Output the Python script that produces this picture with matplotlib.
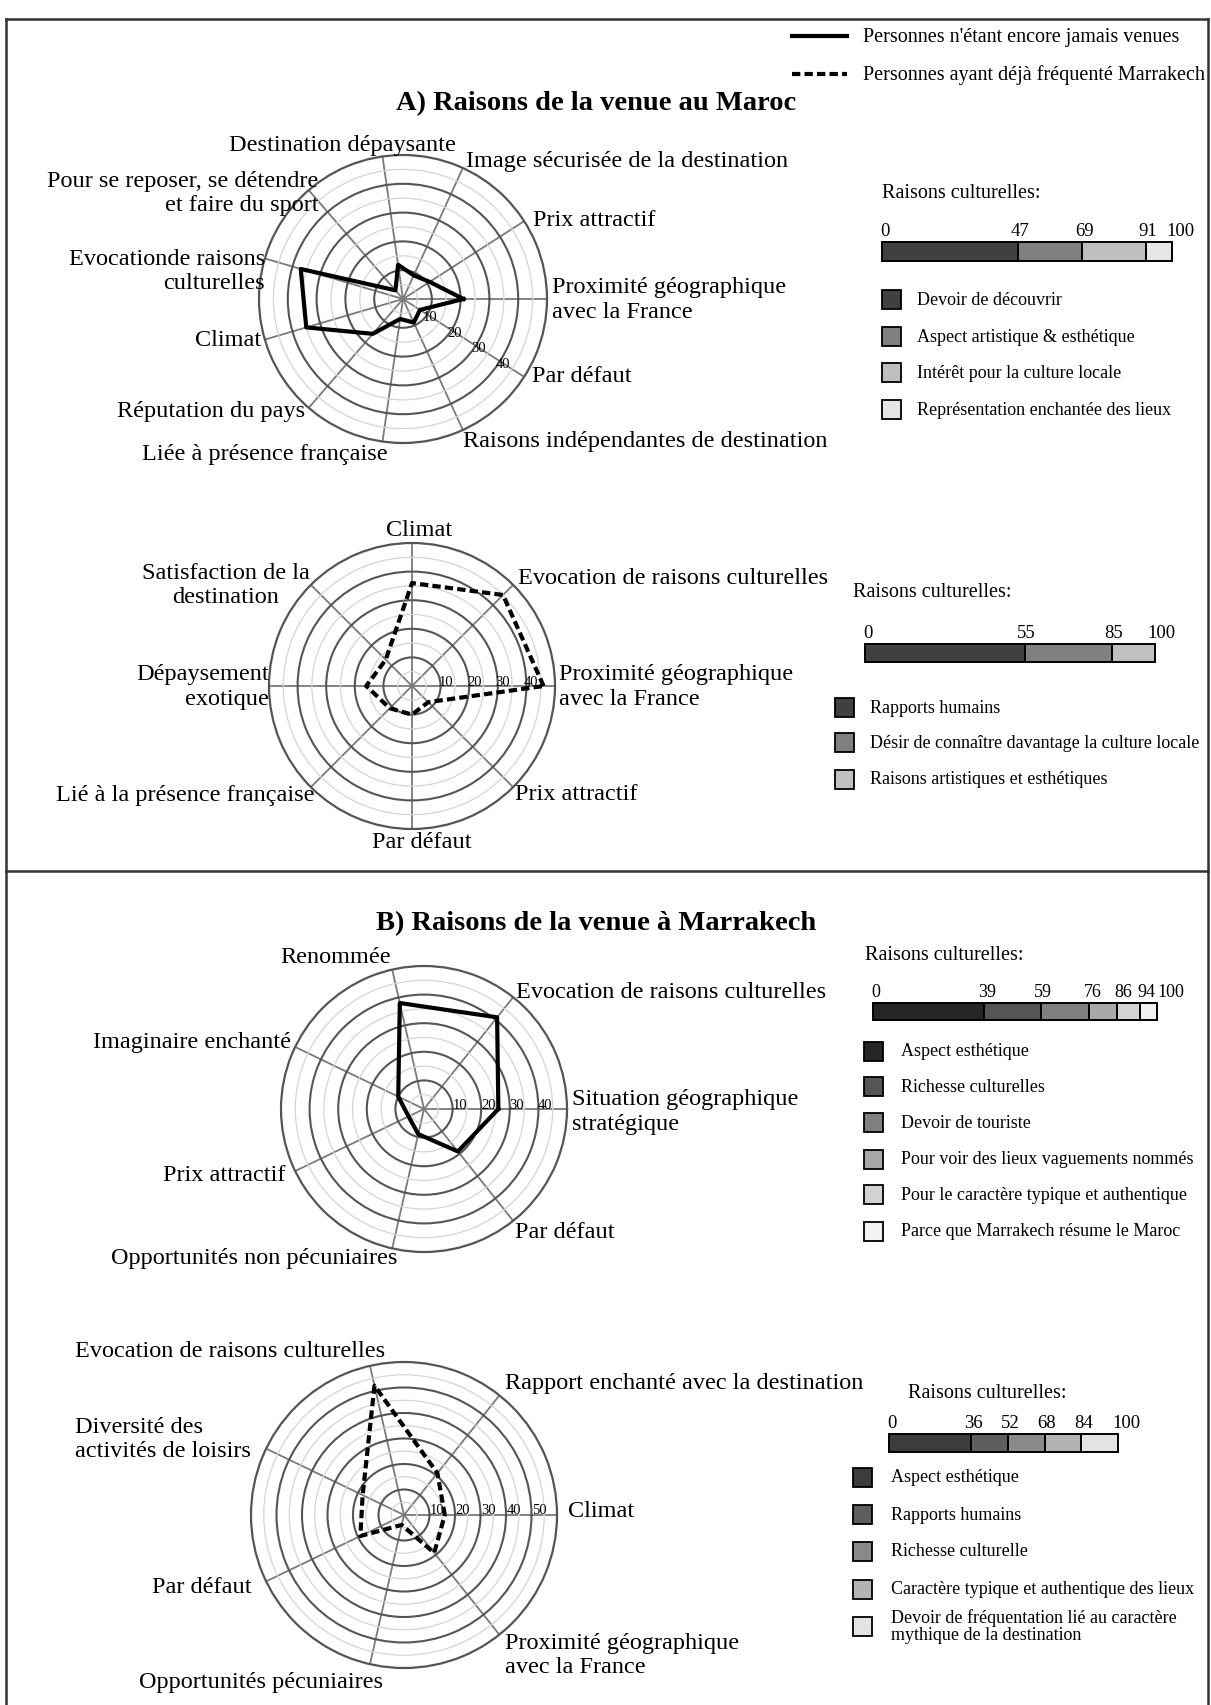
import numpy as np
import matplotlib.pyplot as plt
from matplotlib.patches import Rectangle

plt.rcParams['font.family'] = ['Liberation Serif', 'DejaVu Serif']

W, H = 1211, 1706

# ---- data (categories listed counter-clockwise starting from the right-hand spoke) ----
a1_cats = ["Proximité géographique\navec la France", "Prix attractif",
           "Image sécurisée de la destination", "Destination dépaysante",
           "Pour se reposer, se détendre\net faire du sport", "Evocationde raisons\nculturelles",
           "Climat", "Réputation du pays", "Liée à présence française",
           "Raisons indépendantes de destination", "Par défaut"]
a1_vals = [21, 11, 9, 12, 4, 37, 35, 16, 7, 9, 7]

a2_cats = ["Proximité géographique\navec la France", "Evocation de raisons culturelles",
           "Climat", "Satisfaction de la\ndestination", "Dépaysement\nexotique",
           "Lié à la présence française", "Par défaut", "Prix attractif"]
a2_vals = [46, 45, 36, 13, 16, 11, 10, 8]

b1_cats = ["Situation géographique\nstratégique", "Evocation de raisons culturelles",
           "Renommée", "Imaginaire enchanté", "Prix attractif",
           "Opportunités non pécuniaires", "Par défaut"]
b1_vals = [26, 41, 38, 10, 6, 9, 19]

b2_cats = ["Climat", "Rapport enchanté avec la destination",
           "Evocation de raisons culturelles", "Diversité des\nactivités de loisirs",
           "Par défaut", "Opportunités pécuniaires", "Proximité géographique\navec la France"]
b2_vals = [16, 21, 52, 18, 19, 4, 19]

# cultural reasons breakdown (shares in %)
a1_bar_names = ["Devoir de découvrir", "Aspect artistique & esthétique",
                "Intérêt pour la culture locale", "Représentation enchantée des lieux"]
a1_bar_shares = [47, 22, 22, 9]
a2_bar_names = ["Rapports humains", "Désir de connaître davantage la culture locale",
                "Raisons artistiques et esthétiques"]
a2_bar_shares = [55, 30, 15]
b1_bar_names = ["Aspect esthétique", "Richesse culturelles", "Devoir de touriste",
                "Pour voir des lieux vaguements nommés", "Pour le caractère typique et authentique",
                "Parce que Marrakech résume le Maroc"]
b1_bar_shares = [39, 20, 17, 10, 8, 6]
b2_bar_names = ["Aspect esthétique", "Rapports humains", "Richesse culturelle",
                "Caractère typique et authentique des lieux",
                "Devoir de fréquentation lié au caractère\nmythique de la destination"]
b2_bar_shares = [36, 16, 16, 16, 16]

a1_colors = ['#404040', '#808080', '#bfbfbf', '#e6e6e6']
a2_colors = ['#404040', '#808080', '#c0c0c0']
b1_colors = ['#262626', '#555555', '#808080', '#a8a8a8', '#d2d2d2', '#f2f2f2']
b2_colors = ['#3c3c3c', '#5e5e5e', '#8a8a8a', '#b3b3b3', '#e3e3e3']

DASH = (0, (2, 1))
LABEL_FS = 17.5

fig = plt.figure(figsize=(W / 100, H / 100), dpi=100)
bg = fig.add_axes([0, 0, 1, 1])
bg.set_xlim(0, W)
bg.set_ylim(H, 0)
bg.axis('off')


def radar(cx, cy, R, rmax, cats, vals, ls, label_spec, ridx, roff):
    ax = fig.add_axes([(cx - R) / W, 1 - (cy + R) / H, 2 * R / W, 2 * R / H], projection='polar')
    n = len(cats)
    theta = 2 * np.pi * np.arange(n) / n
    ax.set_ylim(0, rmax)
    ax.set_xticks(theta)
    ax.set_yticks(np.arange(10, rmax, 10))
    ax.set_yticks(np.arange(5, rmax, 10), minor=True)
    ax.set_xticklabels([])
    ax.set_yticklabels([])
    ax.tick_params(length=0, which='both')
    ax.grid(True, axis='y', which='major', color='#555555', lw=1.5)
    ax.grid(True, axis='y', which='minor', color='#d4d4d4', lw=0.9)
    ax.grid(True, axis='x', color='#7a7a7a', lw=1.3)
    ax.spines['polar'].set_color('#555555')
    ax.spines['polar'].set_linewidth(1.6)
    t = np.append(theta, theta[0])
    v = np.append(vals, vals[0])
    ax.plot(t, v, color='black', lw=3, linestyle=ls, zorder=5, clip_on=False)
    for th, name, (ha, dx, dy, ma) in zip(theta, cats, label_spec):
        ax.annotate(name, xy=(th, rmax), xytext=(dx, -dy), textcoords='offset pixels',
                    ha=ha, va='center', ma=ma, fontsize=LABEL_FS, annotation_clip=False,
                    linespacing=1.2)
    for r in np.arange(10, rmax, 10):
        ax.annotate(f'{r:g}', xy=(theta[ridx], r), xytext=(roff[0], -roff[1]),
                    textcoords='offset pixels', ha='center', va='center', fontsize=10.5,
                    zorder=6)
    return ax


a1_spec = [('left', 5, 0, 'left'), ('left', 9, -2, 'left'), ('left', 3, -8, 'left'),
           ('center', -40, -12, 'center'), ('right', 10, 2, 'right'), ('right', 0, 12, 'right'),
           ('right', -4, 0, 'right'), ('right', -4, 3, 'right'), ('right', 5, 12, 'right'),
           ('left', 0, 11, 'left'), ('left', 8, -1, 'left')]
a2_spec = [('left', 4, 0, 'left'), ('left', 5, -7, 'left'), ('center', 7, -14, 'center'),
           ('right', -1, 0, 'center'), ('right', 0, 0, 'right'), ('right', 4, 7, 'right'),
           ('center', 10, 12, 'center'), ('left', 2, 6, 'left')]
b1_spec = [('left', 5, 2, 'left'), ('left', 3, -6, 'left'), ('right', -1, -13, 'right'),
           ('right', -4, -5, 'right'), ('right', -10, 3, 'right'), ('right', 5, 9, 'right'),
           ('left', 2, 11, 'left')]
b2_spec = [('left', 11, -4, 'left'), ('left', 6, -13, 'left'), ('right', 15, -15, 'right'),
           ('right', -15, -10, 'left'), ('right', -15, 5, 'right'), ('right', 13, 17, 'right'),
           ('left', 6, 20, 'left')]

radar(403, 300, 144, 50, a1_cats, a1_vals, '-', a1_spec, 10, (3, 2))
radar(412, 687, 143, 50, a2_cats, a2_vals, DASH, a2_spec, 0, (5, -5))
radar(424, 1110, 143, 50, b1_cats, b1_vals, '-', b1_spec, 0, (7, -4))
radar(404, 1516, 153, 60, b2_cats, b2_vals, DASH, b2_spec, 0, (8, -5))


def stacked_bar(x0, x1, y0, y1, shares, colors, nudge=None, fs=13.5):
    ax = fig.add_axes([x0 / W, 1 - y1 / H, (x1 - x0) / W, (y1 - y0) / H])
    cum = np.cumsum(shares)
    lefts = cum - np.array(shares)
    bars = ax.barh(0, shares, left=lefts, height=1, color=colors,
                   edgecolor='black', linewidth=1.4)
    for b in bars:
        b.set_clip_on(False)
    ax.set_xlim(0, 100)
    ax.set_ylim(-0.5, 0.5)
    ax.axis('off')
    bounds = np.concatenate([[0], cum])
    if nudge is None:
        nudge = [2] * len(bounds)
    for b, nx in zip(bounds, nudge):
        ax.annotate(f'{b:g}', xy=(b, 0.5), xytext=(nx, 3), textcoords='offset pixels',
                    ha='center', va='bottom', fontsize=fs, annotation_clip=False)


def legend_items(x, ys, names, colors, tx, size=19):
    for y, name, c in zip(ys, names, colors):
        bg.add_patch(Rectangle((x, y - size / 2), size, size, facecolor=c,
                               edgecolor='black', lw=1.3))
        bg.text(tx, y, name, ha='left', va='center', fontsize=13, linespacing=1.0)


# panel A, top
bg.text(882, 193, "Raisons culturelles:", ha='left', va='center', fontsize=14.5)
stacked_bar(882, 1172, 243, 262, a1_bar_shares, a1_colors, [3, 2, 2, 2, 8])
legend_items(882, [300, 337, 373, 410], a1_bar_names, a1_colors, 917)

# panel A, bottom
bg.text(853, 592, "Raisons culturelles:", ha='left', va='center', fontsize=14.5)
stacked_bar(865, 1155, 645, 663, a2_bar_shares, a2_colors, [3, 2, 2, 6])
legend_items(835, [708, 743, 780], a2_bar_names, a2_colors, 870)

# panel B, top
bg.text(865, 955, "Raisons culturelles:", ha='left', va='center', fontsize=14.5)
stacked_bar(873, 1157, 1004, 1021, b1_bar_shares, b1_colors, [3, 3, 2, 4, 6, 6, 14], fs=13)
legend_items(864, [1052, 1087, 1123, 1160, 1195, 1232], b1_bar_names, b1_colors, 901)

# panel B, bottom
bg.text(908, 1393, "Raisons culturelles:", ha='left', va='center', fontsize=14.5)
stacked_bar(889, 1118, 1435, 1453, b2_bar_shares, b2_colors, [3, 2, 2, 2, 2, 8])
legend_items(853, [1478, 1515, 1552, 1590, 1627], b2_bar_names, b2_colors, 891)

# series legend
bg.plot([792, 847], [37, 37], color='black', lw=3)
bg.plot([792, 847], [75, 75], color='black', lw=3, linestyle=DASH)
bg.text(863, 37, "Personnes n'étant encore jamais venues", ha='left', va='center', fontsize=14.5)
bg.text(863, 75, "Personnes ayant déjà fréquenté Marrakech", ha='left', va='center', fontsize=14.5)

# section titles
bg.text(596, 104, "A) Raisons de la venue au Maroc", ha='center', va='center',
        fontsize=20.5, fontweight='bold')
bg.text(596, 924, "B) Raisons de la venue à Marrakech", ha='center', va='center',
        fontsize=20.5, fontweight='bold')

# frame
frame = '#333333'
bg.plot([6, 1208], [20, 20], color=frame, lw=1.8)
bg.plot([6, 6], [20, H], color=frame, lw=1.8)
bg.plot([1208, 1208], [20, H], color=frame, lw=1.8)
bg.plot([6, 1208], [872, 872], color=frame, lw=1.8)

fig.savefig('out.png', dpi=100)
